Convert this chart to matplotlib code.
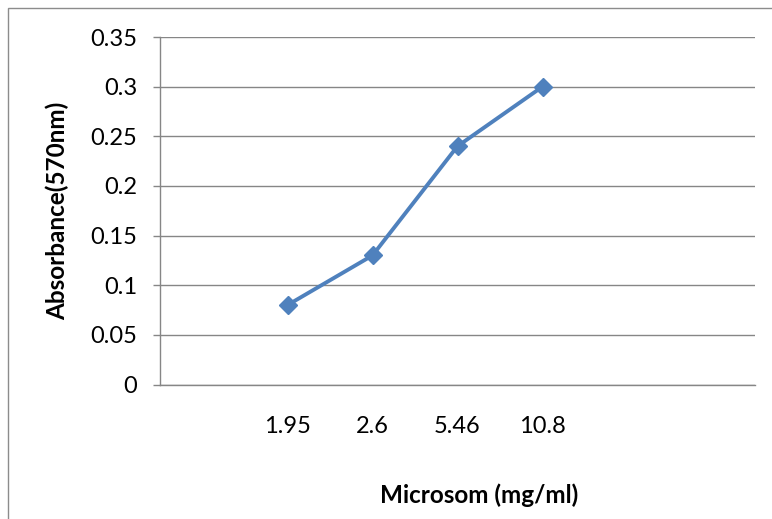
import matplotlib
matplotlib.use("Agg")
import matplotlib.pyplot as plt
from matplotlib.patches import Rectangle
import numpy as np

categories = ["1.95", "2.6", "5.46", "10.8"]
absorbance = [0.08, 0.13, 0.24, 0.30]
y_ticks = [0, 0.05, 0.1, 0.15, 0.2, 0.25, 0.3, 0.35]
y_tick_labels = ["0", "0.05", "0.1", "0.15", "0.2", "0.25", "0.3", "0.35"]
x_title = "Microsom (mg/ml)"
y_title = "Absorbance(570nm)"

plt.rcParams['font.family'] = ['Lato', 'DejaVu Sans']

W, H = 772, 519
fig = plt.figure(figsize=(W / 100, H / 100), dpi=100)

# chart-area border (partially outside the image)
fig.patches.append(Rectangle((7.5 / W, -0.1), 1.2, (H - 8) / H + 0.1,
                             transform=fig.transFigure, fill=False,
                             edgecolor="#8c8c8c", linewidth=1.0))

left, right, top, bottom = 160, 755, 37, 384.5
ax = fig.add_axes([left / W, 1 - bottom / H, (right - left) / W, (bottom - top) / H])

grid_c = "#868686"
x = np.arange(len(categories))
ax.plot(x, absorbance, color="#4F81BD", linewidth=2.8, marker="D",
        markersize=9.5, markerfacecolor="#4F81BD", markeredgecolor="#4F81BD",
        zorder=3)

ax.set_xlim(-1.5, 5.5)
ax.set_ylim(0, 0.35)
ax.set_yticks(y_ticks)
ax.set_yticklabels(y_tick_labels)
ax.set_xticks(x)
ax.set_xticklabels(categories)

ax.yaxis.grid(True, color=grid_c, linewidth=1.0)
ax.set_axisbelow(True)
for s in ["top", "right"]:
    ax.spines[s].set_visible(False)
for s in ["left", "bottom"]:
    ax.spines[s].set_color(grid_c)
    ax.spines[s].set_linewidth(1.0)

ax.tick_params(axis="y", length=5, width=1.0, color=grid_c, pad=11.5,
               labelsize=17, labelcolor="black")
ax.tick_params(axis="x", length=0, pad=23, labelsize=17, labelcolor="black")

ax.set_xlabel(x_title, fontsize=17.5, fontweight="bold")
ax.set_ylabel(y_title, fontsize=17.5, fontweight="bold")
ax.xaxis.label.set_verticalalignment("center")
ax.yaxis.label.set_verticalalignment("center")
ax.xaxis.set_label_coords((479 - left) / (right - left), (bottom - 495) / (bottom - top))
ax.yaxis.set_label_coords((57 - left) / (right - left), 0.5)

fig.savefig("out.png", dpi=100)
